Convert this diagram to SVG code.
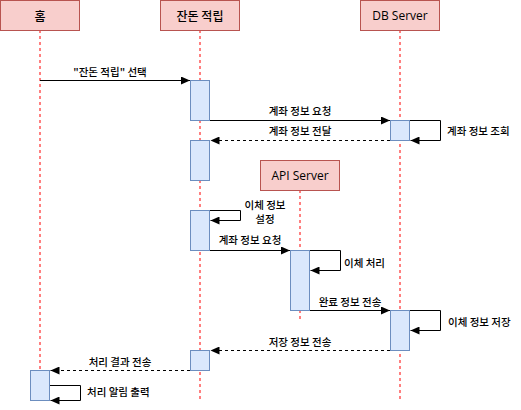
<svg xmlns="http://www.w3.org/2000/svg" width="521" height="410" viewBox="0 0 521 410">
<defs>
<marker id="arr" markerWidth="10" markerHeight="8" refX="9" refY="4" orient="auto" markerUnits="userSpaceOnUse">
<path d="M0,0 L9,4 L0,8 Z" fill="#000"/>
</marker>
<style>
.hdr{fill:#f8cecc;stroke:#b85450;stroke-width:1}
.act{fill:#dae8fc;stroke:#6c8ebf;stroke-width:1}
.life{stroke:#ff0000;stroke-width:1;stroke-dasharray:3 3;fill:none}
.msg{stroke:#000;stroke-width:1;fill:none;marker-end:url(#arr)}
.ret{stroke:#000;stroke-width:1;fill:none;stroke-dasharray:3 3;marker-end:url(#arr)}
.kt{font-family:"Noto Sans CJK KR","Noto Sans",sans-serif;font-size:10.5px;font-weight:500;fill:#000;dominant-baseline:central}
.ht{font-family:"Noto Sans CJK KR","Noto Sans",sans-serif;font-size:12px;font-weight:500;fill:#000;dominant-baseline:central;text-anchor:middle}
.et{font-family:"Open Sans","Noto Sans",sans-serif;font-size:12px;fill:#000;dominant-baseline:central;text-anchor:middle}
.c{text-anchor:middle}
</style>
</defs>
<rect width="521" height="410" fill="#fff"/>
<g id="lifelines">
<line class="life" x1="40" y1="30" x2="40" y2="400"/>
<line class="life" x1="200" y1="30" x2="200" y2="400"/>
<line class="life" x1="400" y1="30" x2="400" y2="400"/>
<line class="life" x1="300" y1="190" x2="300" y2="320"/>
</g>
<g id="node-home">
<rect class="hdr" x="0.5" y="0.5" width="79" height="30"/>
<text class="ht" x="40" y="15">홈</text>
</g>
<g id="node-change">
<rect class="hdr" x="160.5" y="0.5" width="79" height="30"/>
<text class="ht" x="200" y="15">잔돈 적립</text>
</g>
<g id="node-db">
<rect class="hdr" x="360.5" y="0.5" width="79" height="30"/>
<text class="et" x="400" y="15.5">DB Server</text>
</g>
<g id="node-api">
<rect class="hdr" x="260.5" y="160.5" width="79" height="30"/>
<text class="et" x="300" y="175.5">API Server</text>
</g>
<g id="activations">
<rect class="act" x="190.5" y="80.5" width="19" height="40"/>
<rect class="act" x="390.5" y="120.5" width="19" height="20"/>
<rect class="act" x="190.5" y="140.5" width="19" height="40"/>
<rect class="act" x="190.5" y="210.5" width="19" height="40"/>
<rect class="act" x="290.5" y="250.5" width="19" height="60"/>
<rect class="act" x="390.5" y="310.5" width="19" height="40"/>
<rect class="act" x="190.5" y="350.5" width="19" height="20"/>
<rect class="act" x="30.5" y="370.5" width="19" height="30"/>
</g>
<g id="connectors">
<line class="msg" x1="40" y1="80.5" x2="190" y2="80.5"/>
<line class="msg" x1="210" y1="120.5" x2="390" y2="120.5"/>
<path class="msg" d="M410,120.5 H440.5 V140.5 H410.5"/>
<line class="ret" x1="390" y1="140.5" x2="210.5" y2="140.5"/>
<path class="msg" d="M210,210.5 H240.5 V220.5 H210.5"/>
<line class="msg" x1="210" y1="250.5" x2="290" y2="250.5"/>
<path class="msg" d="M310,250.5 H340.5 V270.5 H310.5"/>
<line class="msg" x1="310" y1="310.5" x2="390" y2="310.5"/>
<path class="msg" d="M410,310.5 H440.5 V330.5 H410.5"/>
<line class="ret" x1="390" y1="350.5" x2="210.5" y2="350.5"/>
<line class="ret" x1="190" y1="370.5" x2="50.5" y2="370.5"/>
<path class="msg" d="M50,385.5 H80.5 V400.5 H50.5"/>
</g>
<g id="labels">
<text class="kt c" x="110" y="71">"잔돈 적립" 선택</text>
<text class="kt c" x="300" y="110">계좌 정보 요청</text>
<text class="kt c" x="300" y="130">계좌 정보 전달</text>
<text class="kt" x="447" y="130">계좌 정보 조회</text>
<text class="kt c" x="265" y="204">이체 정보</text>
<text class="kt c" x="265" y="218">설정</text>
<text class="kt c" x="250" y="239">계좌 정보 요청</text>
<text class="kt" x="344" y="262">이체 처리</text>
<text class="kt c" x="350" y="301">완료 정보 전송</text>
<text class="kt" x="448" y="321">이체 정보 저장</text>
<text class="kt c" x="300" y="341">저장 정보 전송</text>
<text class="kt c" x="120" y="361">처리 결과 전송</text>
<text class="kt" x="87" y="391">처리 알림 출력</text>
</g>
</svg>
